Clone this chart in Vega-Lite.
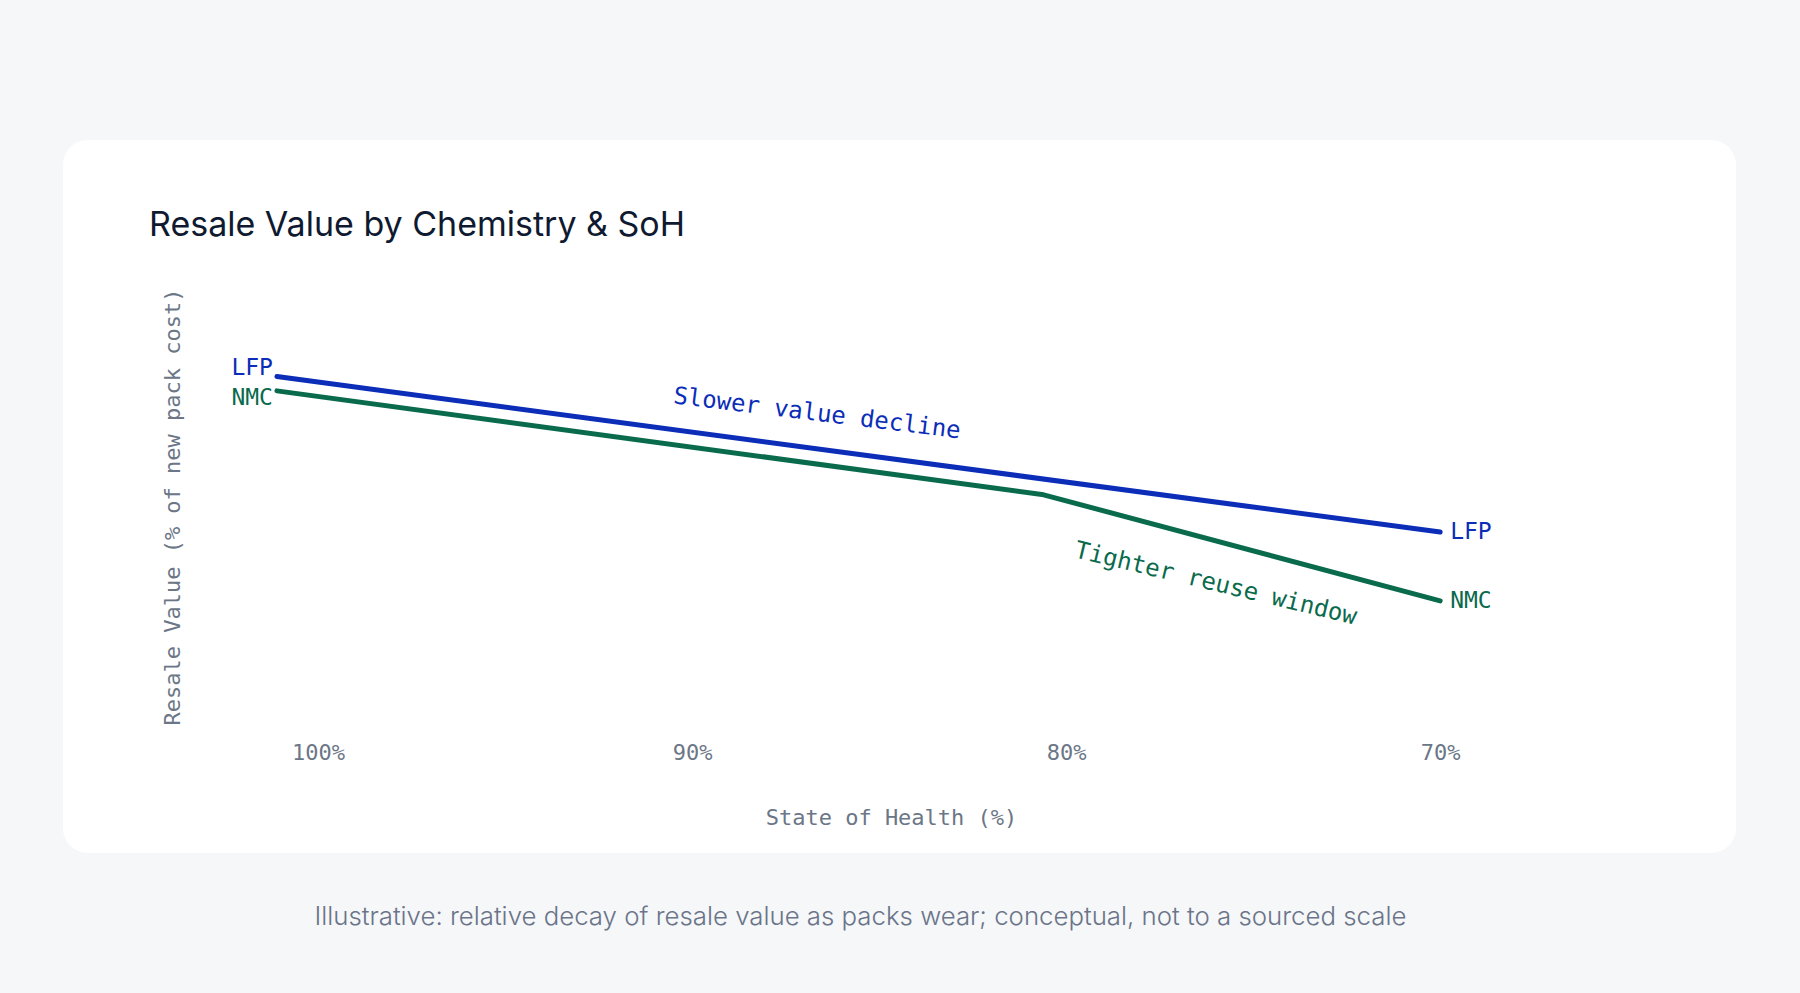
{
  "$schema": "https://vega.github.io/schema/vega-lite/v6.json",
  "width": 1673,
  "height": 713,
  "autosize": {"type": "none"},
  "padding": {"left": 63, "top": 140, "right": 64, "bottom": 140},
  "background": "#f5f7f8",
  "title": {
    "text": "Resale Value by Chemistry & SoH",
    "orient": "top",
    "anchor": "start",
    "frame": "group",
    "offset": -103,
    "dx": 86,
    "font": "Inter",
    "fontSize": 34,
    "fontWeight": 400,
    "color": "#0f1a30"
  },
  "config": {
    "view": {"fill": "#ffffff", "stroke": null, "cornerRadius": 25}
  },
  "datasets": {
    "series": [
      {"chem": "LFP", "soh": 101.1, "value": 80.0},
      {"chem": "LFP", "soh": 70.0, "value": 44.1},
      {"chem": "NMC", "soh": 101.1, "value": 76.7},
      {"chem": "NMC", "soh": 80.6, "value": 52.7},
      {"chem": "NMC", "soh": 70.0, "value": 28.2}
    ]
  },
  "layer": [
    {
      "data": {"name": "series"},
      "mark": {"type": "line", "strokeWidth": 5, "strokeCap": "round", "strokeJoin": "round"},
      "encoding": {
        "x": {
          "field": "soh",
          "type": "quantitative",
          "scale": {"domain": [62.09, 106.82], "reverse": true, "nice": false, "zero": false},
          "axis": {
            "orient": "bottom",
            "offset": -111,
            "values": [100, 90, 80, 70],
            "labelExpr": "datum.value + '%'",
            "labelFont": "DejaVu Sans Mono",
            "labelFontSize": 22,
            "labelColor": "#6b7686",
            "labelPadding": 0,
            "ticks": false,
            "tickSize": 0,
            "domain": false,
            "grid": false,
            "title": "State of Health (%)",
            "titleFont": "DejaVu Sans Mono",
            "titleFontSize": 22,
            "titleFontWeight": "normal",
            "titleColor": "#6b7686",
            "titleX": 828,
            "titleY": 65,
            "titleBaseline": "top"
          }
        },
        "y": {
          "field": "value",
          "type": "quantitative",
          "scale": {"domain": [-30.02, 134.64], "nice": false, "zero": false},
          "axis": {
            "orient": "left",
            "labels": false,
            "ticks": false,
            "domain": false,
            "grid": false,
            "title": "Resale Value (% of new pack cost)",
            "titleFont": "DejaVu Sans Mono",
            "titleFontSize": 22,
            "titleFontWeight": "normal",
            "titleColor": "#6b7686",
            "titleAngle": 270,
            "titleBaseline": "middle",
            "titleAlign": "center",
            "titleX": 109,
            "titleY": 366.5
          }
        },
        "color": {
          "field": "chem",
          "type": "nominal",
          "scale": {"domain": ["LFP", "NMC"], "range": ["#0b2db8", "#0a6a4c"]},
          "legend": null
        }
      }
    },
    {
      "data": {"name": "series"},
      "transform": [
        {"filter": "datum.chem === 'LFP'"},
        {"joinaggregate": [{"op": "max", "field": "soh", "as": "first"}]},
        {"filter": "datum.soh === datum.first"}
      ],
      "mark": {"type": "text", "align": "right", "baseline": "middle", "dx": -4, "dy": -9, "font": "DejaVu Sans Mono", "fontSize": 23},
      "encoding": {
        "x": {"field": "soh", "type": "quantitative"},
        "y": {"field": "value", "type": "quantitative"},
        "text": {"field": "chem"},
        "color": {"field": "chem", "type": "nominal"}
      }
    },
    {
      "data": {"name": "series"},
      "transform": [
        {"filter": "datum.chem === 'NMC'"},
        {"joinaggregate": [{"op": "max", "field": "soh", "as": "first"}]},
        {"filter": "datum.soh === datum.first"}
      ],
      "mark": {"type": "text", "align": "right", "baseline": "middle", "dx": -4, "dy": 7, "font": "DejaVu Sans Mono", "fontSize": 23},
      "encoding": {
        "x": {"field": "soh", "type": "quantitative"},
        "y": {"field": "value", "type": "quantitative"},
        "text": {"field": "chem"},
        "color": {"field": "chem", "type": "nominal"}
      }
    },
    {
      "data": {"name": "series"},
      "transform": [
        {"joinaggregate": [{"op": "min", "field": "soh", "as": "last"}], "groupby": ["chem"]},
        {"filter": "datum.soh === datum.last"}
      ],
      "mark": {"type": "text", "align": "left", "baseline": "middle", "dx": 10, "font": "DejaVu Sans Mono", "fontSize": 23},
      "encoding": {
        "x": {"field": "soh", "type": "quantitative"},
        "y": {"field": "value", "type": "quantitative"},
        "text": {"field": "chem"},
        "color": {"field": "chem", "type": "nominal"}
      }
    },
    {
      "data": {"values": [{"note": "Slower value decline"}]},
      "mark": {"type": "text", "align": "center", "baseline": "middle", "angle": 7, "font": "DejaVu Sans Mono", "fontSize": 24, "color": "#0b2db8"},
      "encoding": {
        "x": {"datum": 86.66, "type": "quantitative"},
        "y": {"datum": 71.4, "type": "quantitative"},
        "text": {"field": "note"}
      }
    },
    {
      "data": {"values": [{"note": "Tighter reuse window"}]},
      "mark": {"type": "text", "align": "center", "baseline": "middle", "angle": 13.5, "font": "DejaVu Sans Mono", "fontSize": 24, "color": "#0a6a4c"},
      "encoding": {
        "x": {"datum": 76, "type": "quantitative"},
        "y": {"datum": 32.1, "type": "quantitative"},
        "text": {"field": "note"}
      }
    },
    {
      "data": {"values": [{"note": "Illustrative: relative decay of resale value as packs wear; conceptual, not to a sourced scale"}]},
      "mark": {"type": "text", "align": "center", "baseline": "middle", "font": "Inter", "fontSize": 25.8, "fontWeight": 300, "color": "#6b7489"},
      "encoding": {
        "x": {"datum": 85.5, "type": "quantitative"},
        "y": {"datum": -44.8, "type": "quantitative"},
        "text": {"field": "note"}
      }
    }
  ]
}
